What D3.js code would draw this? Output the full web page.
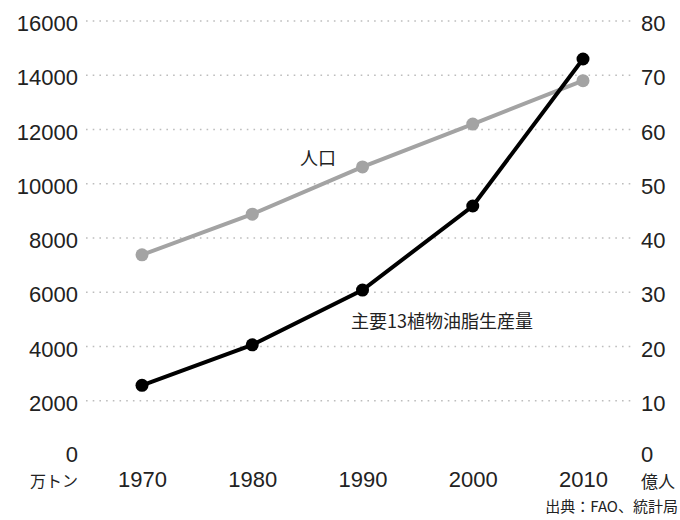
<!DOCTYPE html>
<html lang="ja">
<head>
<meta charset="UTF-8">
<title>植物油脂生産量と人口</title>
<script src="https://cdn.jsdelivr.net/npm/d3@7"></script>
<style>
*{margin:0; padding:0;}
body{background:#fff;}
.num{font-family:"Liberation Sans Narrow","Arial Narrow","Liberation Sans",sans-serif; font-size:22px; fill:#222;}
.jp{font-family:"Noto Sans CJK JP",sans-serif; fill:#222;}
.grid line{stroke:#bdbdbd; stroke-width:1.6; stroke-dasharray:1.6 5.1;}
</style>
</head>
<body>
<script>
var years = [1970, 1980, 1990, 2000, 2010];
// 主要13植物油脂生産量 (万トン)
var oil = [2570, 4060, 6080, 9180, 14600];
// 人口 (億人)
var pop = [36.9, 44.4, 53.1, 61.0, 69.0];
var leftTicks = [0, 2000, 4000, 6000, 8000, 10000, 12000, 14000, 16000];
var rightTicks = [0, 10, 20, 30, 40, 50, 60, 70, 80];

var width = 680, height = 520;
var svg = d3.select("body").append("svg")
	.attr("width", width)
	.attr("height", height);

var x = d3.scaleLinear().domain([1970, 2010]).range([142, 583]);
var yL = d3.scaleLinear().domain([0, 16000]).range([455, 21]);
var yR = d3.scaleLinear().domain([0, 80]).range([455, 21]);

// grid
svg.append("g").attr("class", "grid")
	.selectAll("line")
	.data(leftTicks.filter(function(d){ return d > 0; }))
	.enter().append("line")
	.attr("x1", 86).attr("x2", 631)
	.attr("y1", function(d){ return yL(d); })
	.attr("y2", function(d){ return yL(d); });

function styleAxis(g){
	g.select(".domain").remove();
	g.selectAll("text").attr("class", "num").attr("font-family", null).attr("font-size", null);
}

// left axis
var axL = svg.append("g")
	.attr("transform", "translate(78,2.5)")
	.call(d3.axisLeft(yL).tickValues(leftTicks).tickSize(0).tickPadding(0).tickFormat(d3.format("d")));
styleAxis(axL);

// right axis
var axR = svg.append("g")
	.attr("transform", "translate(641,2.5)")
	.call(d3.axisRight(yR).tickValues(rightTicks).tickSize(0).tickPadding(0));
styleAxis(axR);

// zero labels sit a little higher above the unit labels
axL.selectAll(".tick").filter(function(d){ return d === 0; }).select("text").attr("dy", "0.2em");
axR.selectAll(".tick").filter(function(d){ return d === 0; }).select("text").attr("dy", "0.2em");

// bottom axis
var axB = svg.append("g")
	.attr("transform", "translate(0,471)")
	.call(d3.axisBottom(x).tickValues(years).tickSize(0).tickPadding(0).tickFormat(d3.format("d")));
styleAxis(axB);

// units
svg.append("text").attr("class", "jp").attr("x", 78).attr("y", 487)
	.attr("text-anchor", "end").attr("font-size", 16).text("万トン");
svg.append("text").attr("class", "jp").attr("x", 641).attr("y", 488)
	.attr("font-size", 17).text("億人");
svg.append("text").attr("class", "jp").attr("x", 678).attr("y", 512)
	.attr("text-anchor", "end").attr("font-size", 15).text("出典：FAO、統計局");

// lines
var series = [
	{values: pop, y: yR, color: "#a3a3a3"},
	{values: oil, y: yL, color: "#000"}
];
series.forEach(function(s){
	var pts = years.map(function(yr, i){ return [x(yr), s.y(s.values[i])]; });
	svg.append("path")
		.attr("d", d3.line()(pts))
		.attr("fill", "none")
		.attr("stroke", s.color)
		.attr("stroke-width", 4);
	svg.append("g").selectAll("circle")
		.data(pts)
		.enter().append("circle")
		.attr("cx", function(d){ return d[0]; })
		.attr("cy", function(d){ return d[1]; })
		.attr("r", 6.5)
		.attr("fill", s.color);
});

// labels
svg.append("text").attr("class", "jp").attr("x", 300).attr("y", 165)
	.attr("font-size", 18).text("人口");
svg.append("text").attr("class", "jp").attr("x", 351).attr("y", 328)
	.attr("font-size", 18).text("主要13植物油脂生産量");
</script>
</body>
</html>
